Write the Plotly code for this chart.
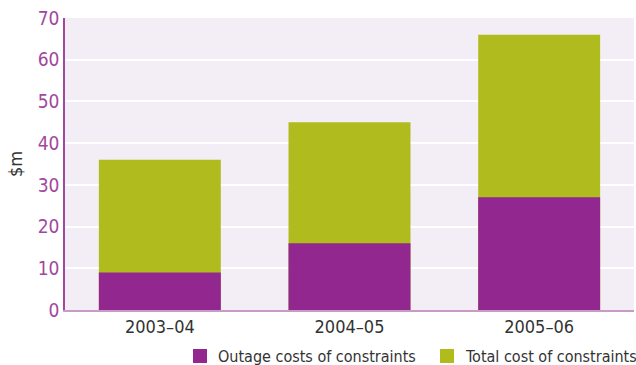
import plotly.graph_objects as go

categories = ["2003–04", "2004–05", "2005–06"]
outage_costs = [9, 16, 27]
total_costs = [36, 45, 66]
y_ticks = [0, 10, 20, 30, 40, 50, 60, 70]

purple = "#92278F"
green = "#B0BB1E"
tick_purple = "#A2479E"

fig = go.Figure()
fig.add_trace(go.Bar(x=categories, y=total_costs, name="Total cost of constraints",
                     marker=dict(color=green, line=dict(width=0)), legendrank=2))
fig.add_trace(go.Bar(x=categories, y=outage_costs, name="Outage costs of constraints",
                     marker=dict(color=purple, line=dict(width=0)), legendrank=1))

fig.update_layout(
    width=636, height=365,
    barmode="overlay",
    bargap=0.357,
    paper_bgcolor="white",
    plot_bgcolor="#F3EEF6",
    margin=dict(l=65, r=2, t=18, b=55),
    font=dict(family="DejaVu Sans Condensed", color="#333333"),
    showlegend=False,
    xaxis=dict(showgrid=False, showline=True, linecolor="#C89BC6", linewidth=1.5,
               ticks="", tickfont=dict(size=18, color="#333333")),
    yaxis=dict(range=[0, 70], tickvals=y_ticks, showgrid=True, gridcolor="white",
               gridwidth=1.5, showline=True, linecolor=tick_purple, linewidth=1.5,
               ticks="", zeroline=False, tickfont=dict(size=19, color=tick_purple),
               title=dict(text="$m", font=dict(size=18, color="#333333"), standoff=10)),
)

# Legend drawn as annotations/shapes in paper space below the plot
legend_items = [("Outage costs of constraints", purple, 193),
                ("Total cost of constraints", green, 440)]
for label, color, px in legend_items:
    x0 = (px - 65) / (636 - 65 - 2)
    x1 = (px + 14 - 65) / (636 - 65 - 2)
    fig.add_shape(type="rect", xref="paper", yref="paper", x0=x0, x1=x1,
                  y0=-(349 + 14 - 310) / 292 + 0.0, y1=-(349 - 310) / 292,
                  fillcolor=color, line=dict(width=0))
    fig.add_annotation(text=label, xref="paper", yref="paper",
                       x=(px + 23 - 65) / 569, y=-(356 - 310) / 292,
                       xanchor="left", yanchor="middle", showarrow=False,
                       font=dict(size=16, color="#333333"))

fig.write_html("out.html")
